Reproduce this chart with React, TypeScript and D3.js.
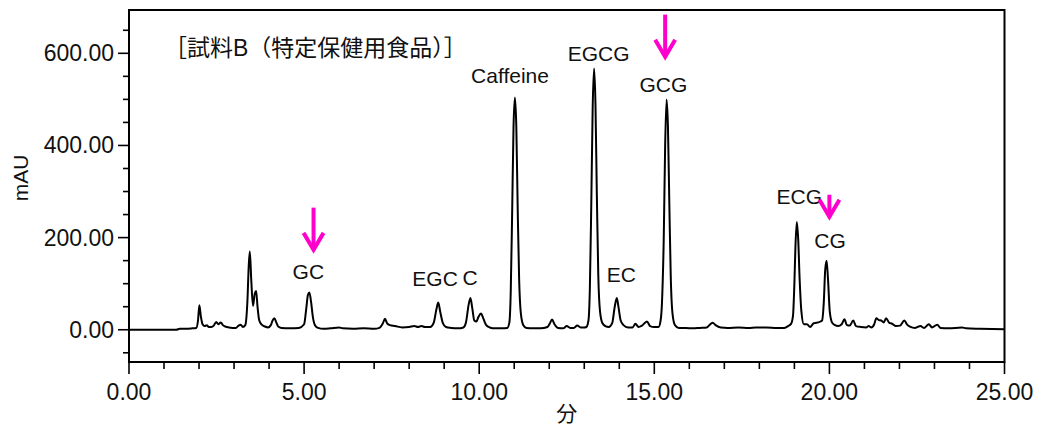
import React, { useEffect, useRef } from 'react';
import * as d3 from 'd3';

// retention time (min) and absorbance (mAU)
const traceMin = [
    0.00, 1.35, 1.45, 1.60, 1.80, 1.92, 1.97, 2.01, 2.05, 2.10, 2.16, 2.22, 2.28, 2.35, 2.42, 2.49, 2.55, 2.62, 2.68, 2.75,
    2.85, 2.95, 3.05, 3.13, 3.19, 3.25, 3.32, 3.38, 3.42, 3.45, 3.49, 3.54, 3.59, 3.63, 3.67, 3.72, 3.79, 3.88, 3.97, 4.05,
    4.10, 4.15, 4.20, 4.26, 4.35, 4.60, 4.85, 5.00, 5.06, 5.11, 5.15, 5.20, 5.25, 5.31, 5.40, 5.55, 5.75, 6.00, 6.10, 6.40,
    6.70, 7.00, 7.15, 7.25, 7.31, 7.37, 7.45, 7.60, 7.80, 8.00, 8.15, 8.25, 8.35, 8.45, 8.60, 8.70, 8.78, 8.83, 8.89, 8.96,
    9.05, 9.20, 9.40, 9.55, 9.62, 9.70, 9.75, 9.80, 9.86, 9.92, 9.98, 10.05, 10.12, 10.20, 10.30, 10.45, 10.65, 10.80, 10.86, 10.90,
    10.94, 10.98, 11.02, 11.06, 11.10, 11.14, 11.19, 11.26, 11.35, 11.55, 11.75, 11.95, 12.02, 12.08, 12.15, 12.25, 12.40, 12.50, 12.60, 12.70,
    12.80, 12.90, 13.00, 13.06, 13.12, 13.16, 13.20, 13.24, 13.28, 13.32, 13.36, 13.40, 13.45, 13.52, 13.60, 13.70, 13.80, 13.87, 13.93, 13.98,
    14.04, 14.12, 14.25, 14.38, 14.46, 14.55, 14.65, 14.79, 14.88, 15.00, 15.12, 15.18, 15.22, 15.27, 15.31, 15.35, 15.39, 15.43, 15.47, 15.52,
    15.59, 15.70, 15.90, 16.10, 16.30, 16.50, 16.60, 16.67, 16.75, 16.90, 17.10, 17.40, 17.70, 17.90, 18.20, 18.50, 18.70, 18.82, 18.90, 18.96,
    19.00, 19.03, 19.07, 19.11, 19.15, 19.20, 19.27, 19.36, 19.45, 19.55, 19.63, 19.72, 19.79, 19.84, 19.88, 19.92, 19.96, 20.01, 20.08, 20.16,
    20.25, 20.35, 20.43, 20.50, 20.58, 20.68, 20.76, 20.90, 21.05, 21.12, 21.20, 21.28, 21.34, 21.41, 21.48, 21.55, 21.62, 21.70, 21.79, 21.90,
    22.02, 22.14, 22.22, 22.30, 22.45, 22.60, 22.70, 22.84, 22.93, 23.08, 23.17, 23.40, 23.79, 23.90, 24.30, 25.00,
];
const traceMAU = [
    0, 0, 2, 2, 3, 4, 20, 53, 30, 12, 8, 10, 6, 6, 9, 17, 12, 16, 10, 7,
    5, 4, 4, 9, 11, 6, 10, 60, 140, 170, 110, 52, 78, 84, 50, 20, 11, 7, 5, 10,
    20, 25, 17, 7, 4, 3, 4, 12, 45, 76, 81, 60, 28, 10, 4, 2, 3, 5, 3, 2,
    3, 2, 4, 14, 24, 14, 10, 8, 5, 6, 8, 6, 8, 6, 6, 15, 45, 59, 38, 15,
    6, 4, 3, 5, 15, 55, 69, 48, 20, 18, 28, 35, 24, 10, 5, 3, 3, 4, 15, 80,
    250, 440, 504, 440, 260, 110, 35, 10, 4, 3, 3, 6, 14, 22, 12, 4, 3, 8, 4, 4,
    9, 5, 5, 6, 20, 90, 270, 480, 567, 490, 290, 120, 40, 14, 8, 6, 15, 50, 69, 48,
    20, 10, 5, 5, 13, 6, 9, 18, 8, 6, 6, 20, 60, 200, 400, 500, 440, 270, 115, 35,
    10, 4, 4, 3, 4, 5, 12, 15, 10, 5, 4, 5, 4, 5, 5, 4, 4, 8, 12, 30,
    100, 180, 234, 195, 110, 40, 12, 12, 6, 14, 15, 17, 20, 60, 130, 150, 110, 40, 15, 10,
    8, 12, 23, 10, 9, 20, 8, 6, 5, 8, 5, 12, 25, 21, 20, 16, 25, 16, 13, 8,
    9, 20, 11, 7, 4, 8, 4, 12, 5, 11, 4, 3, 5, 3, 2, 1,
];

const peakNames = ['GC', 'EGC', 'C', 'Caffeine', 'EGCG', 'GCG', 'EC', 'ECG', 'CG'];
const peakLabelMin = [5.12, 8.74, 9.74, 10.88, 13.41, 15.26, 14.06, 19.14, 20.02];
const peakLabelMAU = [110, 94, 98, 535, 584, 517, 103, 273, 177];

// magenta markers: time, top, tip (mAU)
const arrowMin = [5.27, 15.31, 20.0];
const arrowTopMAU = [265, 684, 293];
const arrowTipMAU = [169, 588, 241];

const yMajorTicks = [0, 200, 400, 600];
const xMajorTicks = [0, 5, 10, 15, 20, 25];

const sampleTitle = '［試料B（特定保健用食品）］';

const W = 1040;
const H = 426;
const FONT = '"Liberation Sans", Arial, "Noto Sans CJK JP", sans-serif';

export default function App() {
    const ref = useRef<SVGSVGElement>(null);
    const margin = { top: 10, right: 35.5, bottom: 64, left: 129 };

    useEffect(() => {
        drawChart();
        //eslint-disable-next-line
    }, []);

    const drawChart = () => {
        const svg = d3.select(ref.current);
        svg.selectAll('*').remove();

        const x = d3.scaleLinear().domain([0, 25]).range([margin.left, W - margin.right]);
        const y = d3.scaleLinear().domain([-70, 694]).range([H - margin.bottom, margin.top]);

        const points = traceMin.map((t, i) => [t, traceMAU[i]] as [number, number]);

        // y ticks (minor every 50, major every 200)
        const yMinor = d3.range(-50, 651, 50).filter(v => !yMajorTicks.includes(v));
        svg.append('g').selectAll('line').data(yMinor).enter().append('line')
            .attr('x1', margin.left - 6).attr('x2', margin.left)
            .attr('y1', d => y(d)).attr('y2', d => y(d))
            .attr('stroke', '#000').attr('stroke-width', 1.6);
        svg.append('g').selectAll('line').data(yMajorTicks).enter().append('line')
            .attr('x1', margin.left - 11).attr('x2', margin.left)
            .attr('y1', d => y(d)).attr('y2', d => y(d))
            .attr('stroke', '#000').attr('stroke-width', 1.6);
        svg.append('g').selectAll('text').data(yMajorTicks).enter().append('text')
            .attr('x', margin.left - 15).attr('y', d => y(d) + 8)
            .attr('text-anchor', 'end')
            .attr('font-family', FONT).attr('font-size', 23).attr('fill', '#111')
            .text(d => d3.format('.2f')(d));

        // x ticks (minor every 1 min)
        const xMinor = d3.range(1, 25, 1).filter(v => !xMajorTicks.includes(v));
        const bottom = H - margin.bottom;
        svg.append('g').selectAll('line').data(xMinor).enter().append('line')
            .attr('x1', d => x(d)).attr('x2', d => x(d))
            .attr('y1', bottom).attr('y2', bottom + 7)
            .attr('stroke', '#000').attr('stroke-width', 1.6);
        svg.append('g').selectAll('line').data(xMajorTicks).enter().append('line')
            .attr('x1', d => x(d)).attr('x2', d => x(d))
            .attr('y1', bottom).attr('y2', bottom + 12)
            .attr('stroke', '#000').attr('stroke-width', 1.6);
        svg.append('g').selectAll('text').data(xMajorTicks).enter().append('text')
            .attr('x', d => x(d)).attr('y', bottom + 38)
            .attr('text-anchor', 'middle')
            .attr('font-family', FONT).attr('font-size', 23).attr('fill', '#111')
            .text(d => d3.format('.2f')(d));

        // axis titles
        svg.append('text')
            .attr('transform', `translate(28, 178) rotate(-90)`)
            .attr('text-anchor', 'middle')
            .attr('font-family', FONT).attr('font-size', 21).attr('fill', '#111')
            .text('mAU');
        svg.append('text')
            .attr('x', (margin.left + W - margin.right) / 2).attr('y', 421)
            .attr('text-anchor', 'middle')
            .attr('font-family', FONT).attr('font-size', 21).attr('fill', '#111')
            .text('分');

        // chromatogram
        const line = d3.line<[number, number]>()
            .x(d => x(d[0]))
            .y(d => y(d[1]))
            .curve(d3.curveMonotoneX);
        svg.append('path')
            .datum(points)
            .attr('fill', 'none')
            .attr('stroke', '#000')
            .attr('stroke-width', 2)
            .attr('stroke-linejoin', 'round')
            .attr('d', line);

        // frame
        svg.append('rect')
            .attr('x', margin.left).attr('y', margin.top)
            .attr('width', W - margin.left - margin.right)
            .attr('height', H - margin.top - margin.bottom)
            .attr('fill', 'none').attr('stroke', '#000').attr('stroke-width', 2);

        // title
        svg.append('text')
            .attr('x', 164).attr('y', 56)
            .attr('font-family', FONT).attr('font-size', 23).attr('fill', '#111')
            .text(sampleTitle);

        // peak labels
        svg.append('g').selectAll('text').data(peakNames).enter().append('text')
            .attr('x', (d, i) => x(peakLabelMin[i]))
            .attr('y', (d, i) => y(peakLabelMAU[i]))
            .attr('text-anchor', 'middle')
            .attr('font-family', FONT).attr('font-size', 21).attr('fill', '#111')
            .text(d => d);

        // arrows
        const arrows = svg.append('g')
            .attr('stroke', '#ff00cc').attr('stroke-width', 4)
            .attr('fill', 'none').attr('stroke-linecap', 'butt').attr('stroke-linejoin', 'miter');
        arrowMin.forEach((t, i) => {
            const ax = x(t);
            const top = y(arrowTopMAU[i]);
            const tip = y(arrowTipMAU[i]);
            arrows.append('line').attr('x1', ax).attr('x2', ax).attr('y1', top).attr('y2', tip - 2);
            arrows.append('path').attr('d', `M${ax - 10},${tip - 19}L${ax},${tip - 2}L${ax + 10},${tip - 19}`);
        });
    };

    return (
        <svg ref={ref} width={W} height={H}
            style={{ position: 'absolute', left: 0, top: 0, background: '#fff' }} />
    );
}
